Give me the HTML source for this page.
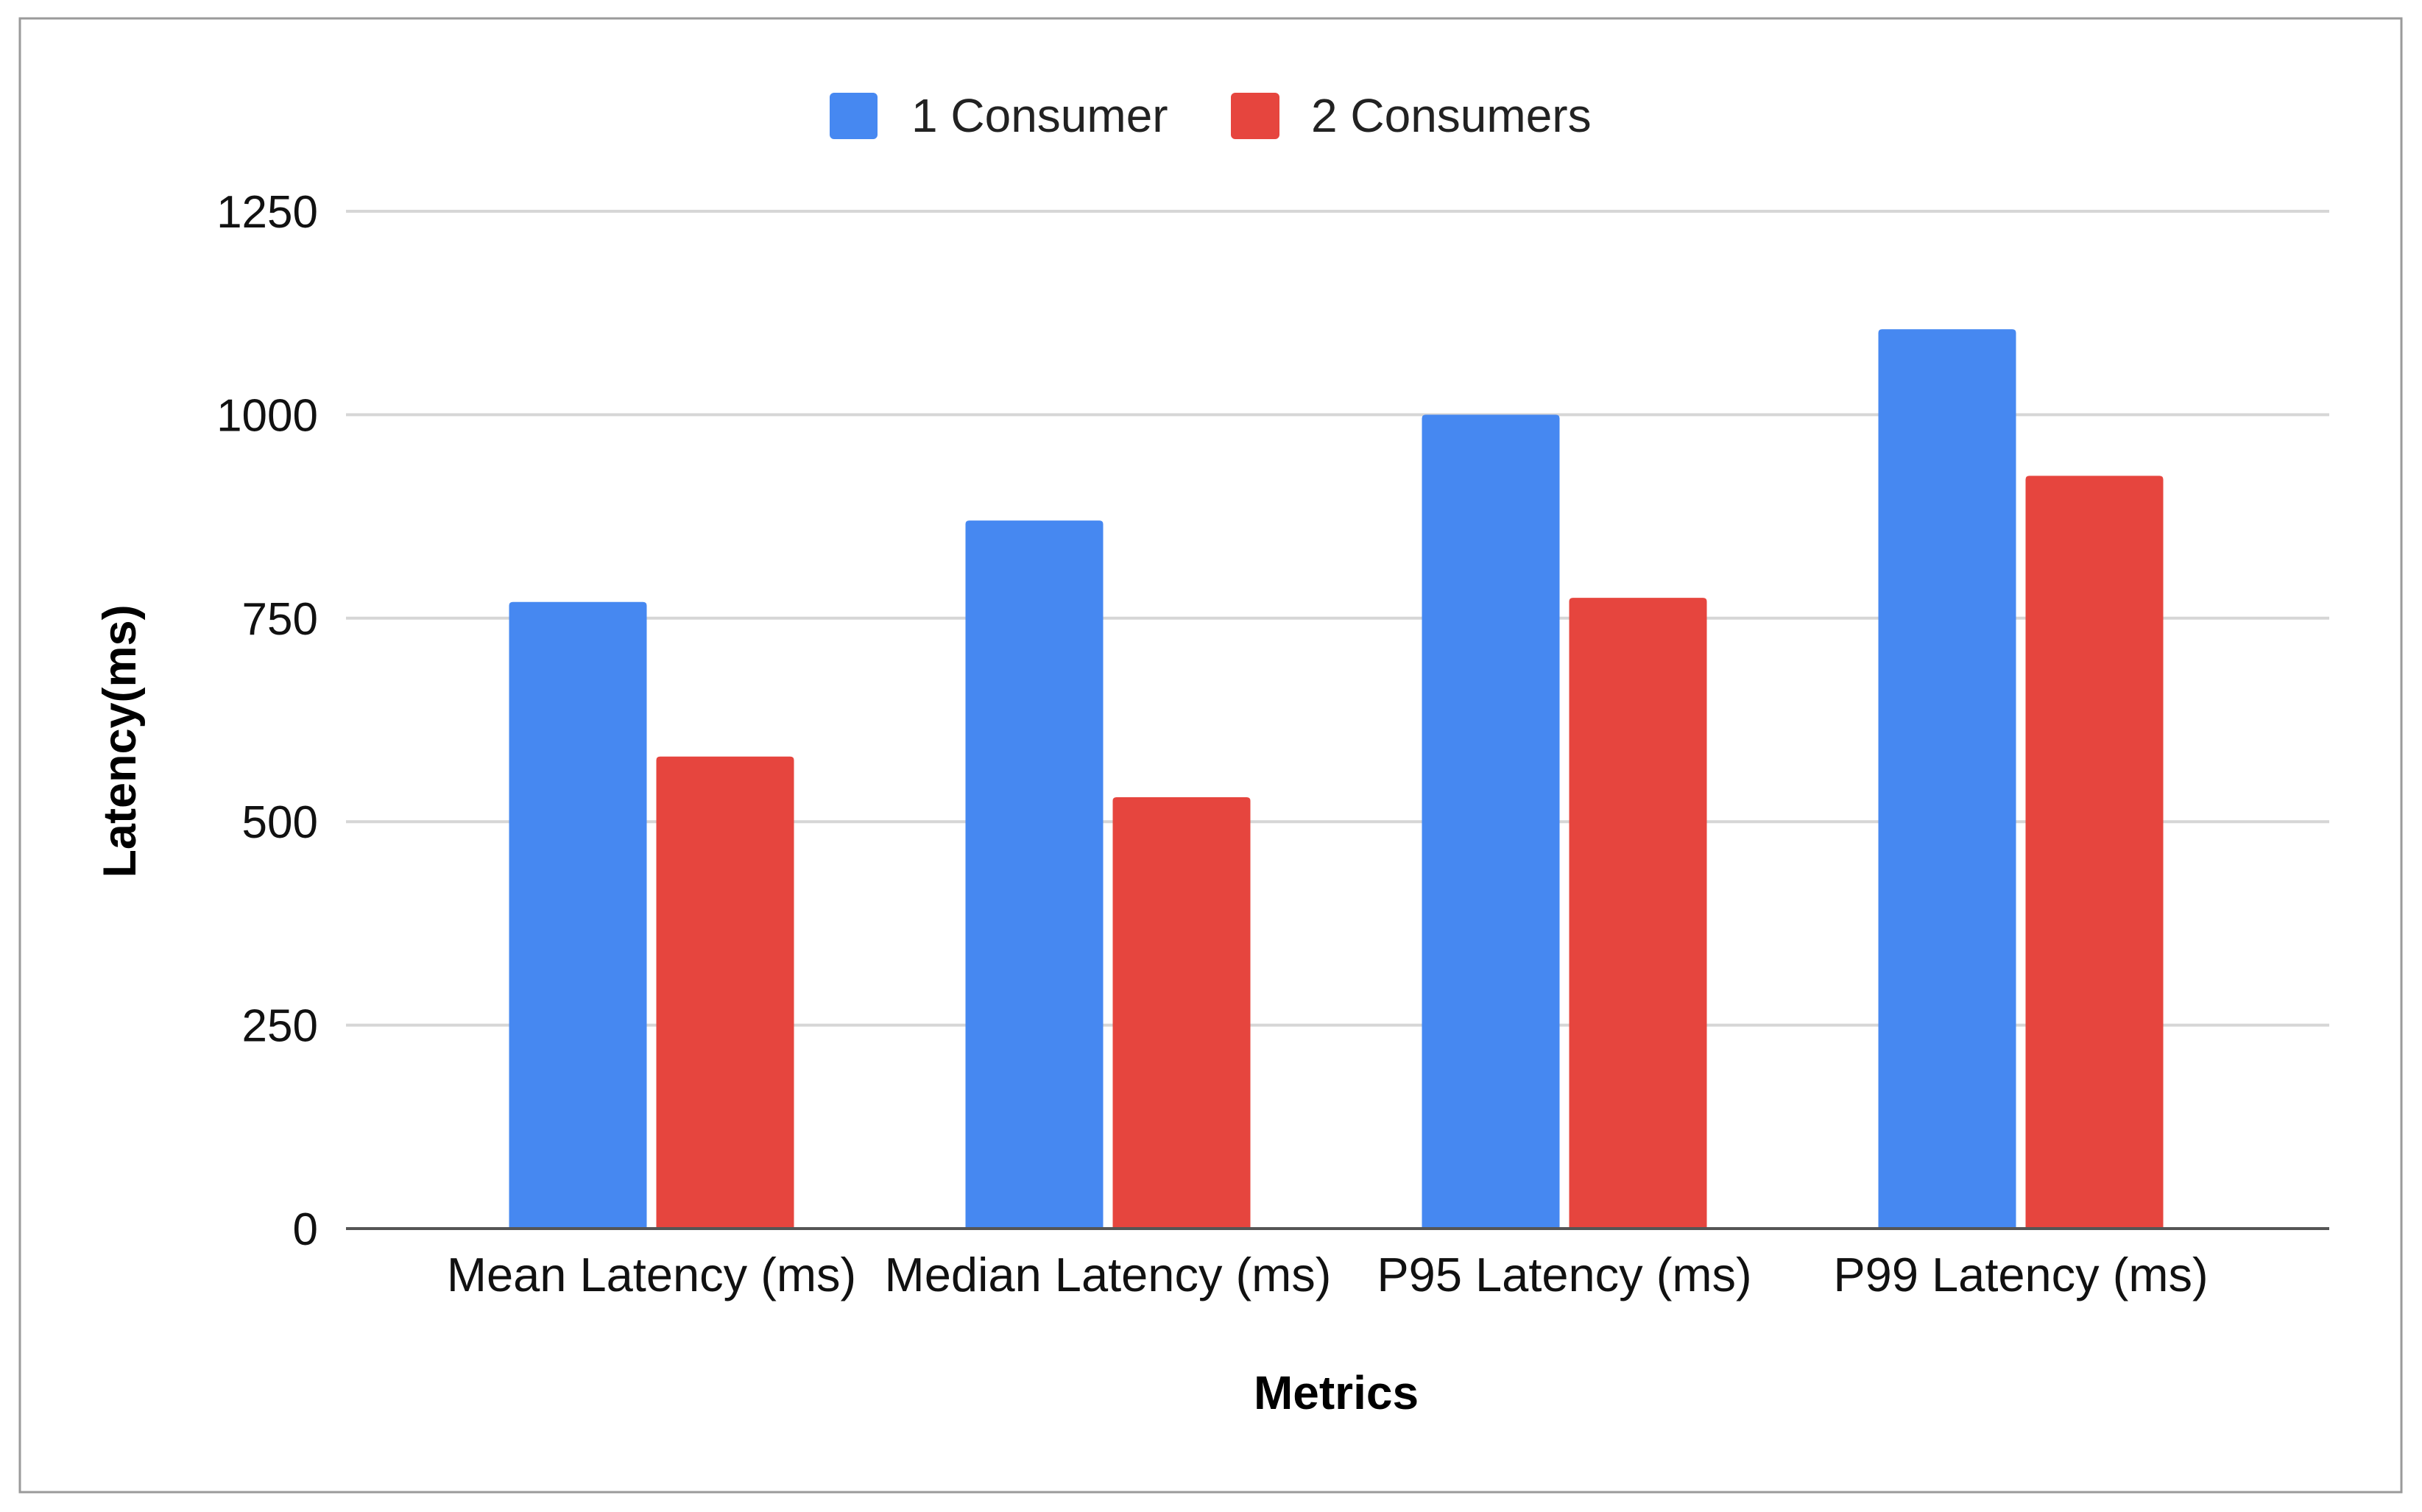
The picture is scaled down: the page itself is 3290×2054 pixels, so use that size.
<!DOCTYPE html>
<html><head><meta charset="utf-8"><style>
html,body{margin:0;padding:0;background:#fff;width:3290px;height:2054px;overflow:hidden}
svg text{font-family:"Liberation Sans",sans-serif}
</style></head><body>
<svg id="chart" width="3290" height="2054" viewBox="0 0 3290 2054" xmlns="http://www.w3.org/2000/svg">
<rect x="27" y="25" width="3235" height="2002" fill="#fff" stroke="#9a9a9a" stroke-width="3"/>
<g id="grid"></g>
<g id="bars"></g>
<g id="xlabels"></g>
<g id="ylabels"></g>
<line x1="470" y1="1669" x2="3164" y2="1669" stroke="#555" stroke-width="4"/>
<g>
<rect x="1127" y="126" width="65" height="63" rx="6" fill="#4688F1"/>
<text x="1238" y="179" font-size="64" fill="#222">1 Consumer</text>
<rect x="1672" y="126" width="66" height="63" rx="6" fill="#E6453E"/>
<text x="1781" y="179" font-size="64" fill="#222">2 Consumers</text>
</g>
<text transform="translate(184,1007) rotate(-90)" text-anchor="middle" font-size="63" font-weight="bold" fill="#000">Latency(ms)</text>
<text x="1815" y="1914" text-anchor="middle" font-size="64" font-weight="bold" fill="#000">Metrics</text>
</svg>
<script>
const categories = ["Mean Latency (ms)", "Median Latency (ms)", "P95 Latency (ms)", "P99 Latency (ms)"];
const oneConsumer = [770, 870, 1000, 1105];
const twoConsumers = [580, 530, 775, 925];
const yTicks = [0, 250, 500, 750, 1000, 1250];

const NS = "http://www.w3.org/2000/svg";
const plotLeft = 470, plotRight = 3164, y0 = 1669, yTop = 287, yMax = 1250;
const firstCenter = 885, step = 620, barW = 187, gap = 13;
function yScale(v){ return y0 - (v / yMax) * (y0 - yTop); }
function xCenter(i){ return firstCenter + i * step; }
function mk(tag, attrs, parent){ const e = document.createElementNS(NS, tag); for (const k in attrs) e.setAttribute(k, attrs[k]); parent.appendChild(e); return e; }

const grid = document.getElementById('grid'), ylab = document.getElementById('ylabels');
yTicks.forEach(t => {
  const y = yScale(t);
  if (t !== 0) {
    const l = mk('line', {x1: plotLeft, x2: plotRight, y1: y, y2: y, stroke: '#d6d6d6', 'stroke-width': 4}, grid);
    
    
  }
  const tx = mk('text', {x: 432, y: y + 22, 'text-anchor': 'end', 'font-size': 62, fill: '#111'}, ylab);
  tx.textContent = t;
  
  
});

const bars = document.getElementById('bars'), xl = document.getElementById('xlabels');
function barPath(x, y, w, h, r){ return `M${x},${y+h}V${y+r}Q${x},${y} ${x+r},${y}H${x+w-r}Q${x+w},${y} ${x+w},${y+r}V${y+h}Z`; }
categories.forEach((c, i) => {
  const cx = xCenter(i);
  const yb = yScale(oneConsumer[i]);
  const b1 = mk('path', {d: barPath(cx - gap/2 - barW, yb, barW, y0 - yb, 5), fill: '#4688F1'}, bars);
  
  
  const yr = yScale(twoConsumers[i]);
  const b2 = mk('path', {d: barPath(cx + gap/2, yr, barW, y0 - yr, 5), fill: '#E6453E'}, bars);
  
  
  const t = mk('text', {x: cx, y: 1754, 'text-anchor': 'middle', 'font-size': 65, fill: '#111'}, xl);
  t.textContent = c;
  
  
});
</script>
</body></html>
